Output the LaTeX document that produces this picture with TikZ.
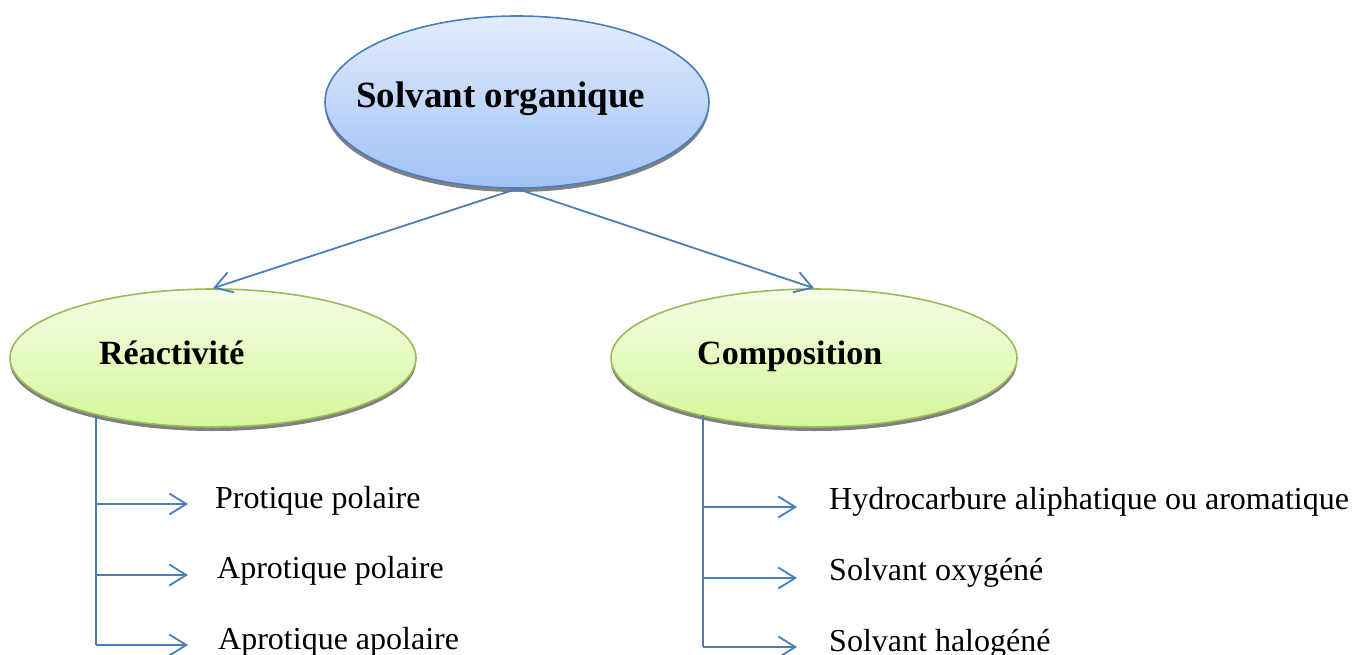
\documentclass[tikz,border=0pt]{standalone}
\usepackage{fontspec}
\setmainfont{Liberation Serif}
\usetikzlibrary{arrows.meta,shapes.geometric,shadows}

\definecolor{linkblue}{HTML}{4A7EBB}
\definecolor{rootTop}{HTML}{E2ECFD}
\definecolor{rootBot}{HTML}{A2C2F6}
\definecolor{leafTop}{HTML}{F4FDE6}
\definecolor{leafBot}{HTML}{D5F79A}
\definecolor{leafLine}{HTML}{9BBB59}

\tikzset{
  bubble/.style={ellipse, inner sep=0pt,
    drop shadow={shadow xshift=0pt, shadow yshift=-4pt, fill=black!50, opacity=1}},
  rootbubble/.style={bubble, draw=linkblue, line width=1.6pt,
    top color=rootTop, bottom color=rootBot,
    minimum width=384pt, minimum height=172pt},
  leafbubble/.style={bubble, draw=leafLine, line width=1.6pt,
    top color=leafTop, bottom color=leafBot,
    minimum width=406pt, minimum height=138pt},
  headtext/.style={anchor=base west, inner sep=0pt, font=\bfseries\fontsize{34}{40}\selectfont},
  itemtext/.style={anchor=base west, inner sep=0pt, font=\fontsize{32}{38}\selectfont},
  link/.style={draw=linkblue, line width=1.8pt},
  linkarrow/.style={link, -{Straight Barb[length=17pt,width=21pt,line width=1.8pt]}}
}

\begin{document}
\begin{tikzpicture}[x=1pt,y=-1pt]
  \useasboundingbox (0,0) rectangle (1352,654);

  % ellipses
  \node[rootbubble] (root) at (517,102) {};
  \node[leafbubble] (react) at (213,358) {};
  \node[leafbubble] (comp) at (814,358) {};

  % titles
  \node[anchor=base west, inner sep=0pt, font=\bfseries\fontsize{37}{44}\selectfont]
    (troot) at (356,107) {Solvant organique};
  \node[headtext] (treact) at (99,364) {Réactivité};
  \node[headtext] (tcomp) at (697,364) {Composition};

  % main arrows
  \draw[linkarrow] (root.south) -- (react.north);
  \draw[linkarrow] (root.south) -- (comp.north);

  % left list
  \coordinate (lb1) at (96,504);
  \coordinate (lb2) at (96,575);
  \coordinate (lb3) at (96,645);
  \coordinate (la1) at (188,504);
  \coordinate (la2) at (188,575);
  \coordinate (la3) at (188,645);
  \node[itemtext] (p1) at (215,508) {Protique polaire};
  \node[itemtext] (p2) at (217,578) {Aprotique polaire};
  \node[itemtext] (p3) at (218,649) {Aprotique apolaire};
  \draw[link] (lb1 |- react.206) -- (lb3);
  \draw[linkarrow] (lb1) -- (la1);
  \draw[linkarrow] (lb2) -- (la2);
  \draw[linkarrow] (lb3) -- (la3);

  % right list
  \coordinate (rb1) at (703,507);
  \coordinate (rb2) at (703,578);
  \coordinate (rb3) at (703,647);
  \coordinate (ra1) at (797,507);
  \coordinate (ra2) at (797,578);
  \coordinate (ra3) at (797,647);
  \node[itemtext] (c1) at (829,509) {Hydrocarbure aliphatique ou aromatique};
  \node[itemtext] (c2) at (829,580) {Solvant oxygéné};
  \node[itemtext] (c3) at (829,651) {Solvant halogéné};
  \draw[link] (rb1 |- comp.206) -- (rb3);
  \draw[linkarrow] (rb1) -- (ra1);
  \draw[linkarrow] (rb2) -- (ra2);
  \draw[linkarrow] (rb3) -- (ra3);
\end{tikzpicture}
\end{document}
